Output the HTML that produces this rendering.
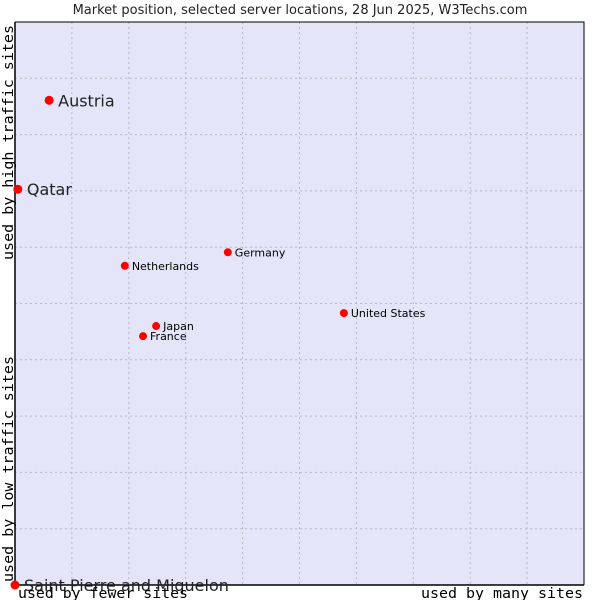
<!DOCTYPE html>
<html><head><meta charset="utf-8"><style>
body{margin:0;background:#fff;}
svg{display:block;font-family:"DejaVu Sans","Liberation Sans",sans-serif;}
</style></head><body>
<svg width="600" height="600" xmlns="http://www.w3.org/2000/svg">
<text x="300" y="14" text-anchor="middle" font-size="13" fill="#222">Market position, selected server locations, 28 Jun 2025, W3Techs.com</text>
<rect x="15" y="22" width="569" height="563" fill="#e4e5f8"/>
<g id="grid"></g>
<path d="M15 22 V585 H584" fill="none" stroke="#000" stroke-width="1.5"/>
<path d="M15 22 H584 V585" fill="none" stroke="#000" stroke-width="1"/>
<g id="points"></g>
<text x="18" y="598" font-family="DejaVu Sans Mono,monospace" font-size="14" textLength="170" lengthAdjust="spacingAndGlyphs" fill="#000">used by fewer sites</text>
<text x="421" y="598" font-family="DejaVu Sans Mono,monospace" font-size="14" textLength="162" lengthAdjust="spacingAndGlyphs" fill="#000">used by many sites</text>
<text transform="translate(13,582) rotate(-90)" font-family="DejaVu Sans Mono,monospace" font-size="14" textLength="226" lengthAdjust="spacingAndGlyphs" fill="#000">used by low traffic sites</text>
<text transform="translate(13,260) rotate(-90)" font-family="DejaVu Sans Mono,monospace" font-size="14" textLength="235" lengthAdjust="spacingAndGlyphs" fill="#000">used by high traffic sites</text>
</svg>
<script>
const names=["Austria","Qatar","Netherlands","Germany","United States","Japan","France","Saint Pierre and Miquelon"];
const xVals=[6.0,0.5,19.3,37.4,57.8,24.8,22.5,0];
const yVals=[86.1,70.3,56.7,59.1,48.3,46.0,44.2,0];
const big=[true,true,false,false,false,false,false,true];
const L=15,T=22,W=569,H=563;
const sx=v=>L+v/100*W, sy=v=>T+H-v/100*H;
const ns="http://www.w3.org/2000/svg";
const g=document.getElementById('grid');
for(let i=1;i<10;i++){
  const a=document.createElementNS(ns,'line');
  
  
  a.setAttribute('x1',sx(i*10));a.setAttribute('x2',sx(i*10));a.setAttribute('y1',T);a.setAttribute('y2',T+H);
  a.setAttribute('stroke','#b8b8c0');a.setAttribute('stroke-dasharray','2,3');g.appendChild(a);
  const b=document.createElementNS(ns,'line');
  
  
  b.setAttribute('y1',sy(i*10));b.setAttribute('y2',sy(i*10));b.setAttribute('x1',L);b.setAttribute('x2',L+W);
  b.setAttribute('stroke','#b8b8c0');b.setAttribute('stroke-dasharray','2,3');g.appendChild(b);
}
const p=document.getElementById('points');
names.forEach((n,i)=>{
  const x=sx(xVals[i]),y=sy(yVals[i]);
  const c=document.createElementNS(ns,'circle');
  
  
  c.setAttribute('cx',x);c.setAttribute('cy',y);c.setAttribute('r',big[i]?4.5:4);c.setAttribute('fill','#f00');p.appendChild(c);
  const t=document.createElementNS(ns,'text');
  
  
  t.setAttribute('x',x+(big[i]?9:7));t.setAttribute('y',y+(big[i]?6:4));
  t.setAttribute('font-size',big[i]?16:11);t.setAttribute('fill',big[i]?'#222':'#000');
  t.textContent=n;p.appendChild(t);
});
</script>
</body></html>
